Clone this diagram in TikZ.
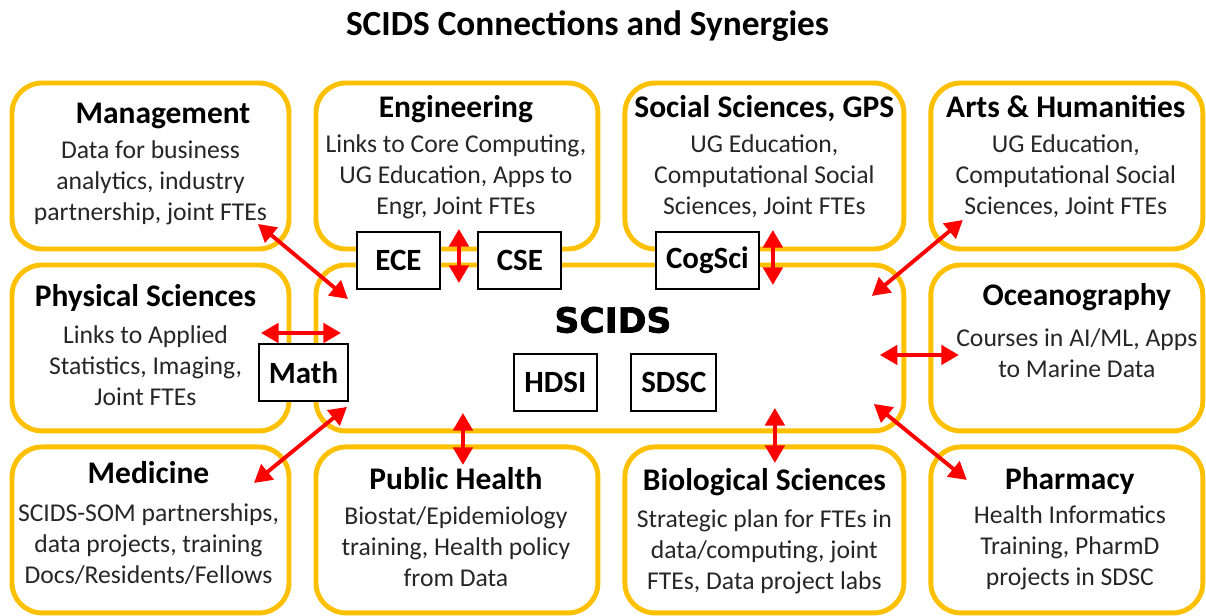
\documentclass[tikz,border=0pt]{standalone}
\usepackage{fontspec}
\setmainfont{Carlito}
\newfontfamily\heavyfont[BoldFeatures={FakeBold=2}]{DejaVu Sans}
\usetikzlibrary{positioning,calc,arrows.meta}

\definecolor{boxgold}{RGB}{255,192,0}
\definecolor{linkred}{RGB}{255,0,0}
\definecolor{bodygrey}{RGB}{38,38,38}

\newcommand{\head}[1]{{\fontsize{17.9}{20}\selectfont\bfseries\color{black}\vphantom{Mdl}#1}}

\begin{document}
\begin{tikzpicture}[
x=0.02cm, y=-0.02cm,
node distance=0.32cm and 0.54cm,
every node/.style={
align=center,
inner sep=0pt,
font=\fontsize{14.6}{17.6}\selectfont
},
link/.style={{Triangle[length=10pt,width=11pt]}-{Triangle[length=10pt,width=11pt]},
draw=linkred, line width=2.2pt}
]

% =====================================================
% Styles
% =====================================================

\tikzstyle{area} =
[rectangle, rounded corners=0.6cm,
draw=boxgold,
line width=2.8pt,
outer sep=0pt,
minimum height=3.32cm]

\tikzstyle{blurb} =
[text=bodygrey,
anchor=north]

\tikzstyle{group} =
[rectangle,
fill=white,
draw=black,
line width=1.1pt,
minimum width=1.66cm,
minimum height=1.14cm,
inner xsep=0.2cm,
font=\fontsize{17.6}{20}\selectfont\bfseries]

\useasboundingbox (0,0) rectangle (1206,615);

% =====================================================
% Title
% =====================================================

\node (title) [anchor=base, font=\fontsize{20.1}{24}\selectfont\bfseries]
at (587.5,36) {SCIDS Connections and Synergies};

% =====================================================
% Boxes
% =====================================================

\node (mgmt) [area, minimum width=5.54cm] at (150.5,166) {};
\node (eng) [area, minimum width=5.64cm, right=of mgmt] {};
\node (soc) [area, minimum width=5.58cm, right=of eng] {};
\node (arts) [area, minimum width=5.44cm, right=of soc] {};

\node (phys) [area, minimum width=5.54cm, below=of mgmt] {};
\node (scids) [area, minimum width=11.76cm, right=of phys] {};
\node (ocean) [area, minimum width=5.44cm, right=of scids] {};

\node (med) [area, minimum width=5.54cm, below=of phys] {};
\node (pub) [area, minimum width=5.64cm, right=of med] {};
\node (bio) [area, minimum width=5.58cm, right=of pub] {};
\node (pharm) [area, minimum width=5.44cm, right=of bio] {};

% =====================================================
% Texts
% =====================================================

\node (mgmttext) [blurb] at ($(mgmt.north)+(0,18)$)
{\head{\hspace*{0.5cm}Management}\\[2.4pt] Data for business\\ analytics, industry\\ partnership, joint FTEs};

\node (engtext) [blurb] at ($(eng.north)+(-1,12)$)
{\head{Engineering}\\[2.4pt] Links to Core Computing,\\ UG Education, Apps to\\ Engr, Joint FTEs};

\node (soctext) [blurb] at ($(soc.north)+(0,12)$)
{\head{Social Sciences, GPS}\\[2.4pt] UG Education,\\ Computational Social\\ Sciences, Joint FTEs};

\node (artstext) [blurb] at ($(arts.north)+(-1,12)$)
{\head{Arts \& Humanities}\\[2.4pt] UG Education,\\ Computational Social\\ Sciences, Joint FTEs};

\node (physstext) [blurb] at ($(phys.north)+(-5,19)$)
{\head{Physical Sciences}\\[3.4pt] Links to Applied\\ Statistics, Imaging,\\ Joint FTEs};

\node (oceantext) [blurb] at ($(ocean.north)+(10,18)$)
{\head{Oceanography}\\[5.6pt] Courses in AI/ML, Apps\\ to Marine Data};

\node (medtext) [blurb] at ($(med.north)+(-2,14)$)
{\head{Medicine}\\[4pt] SCIDS-SOM partnerships,\\ data projects, training\\ Docs/Residents/Fellows};

\node (pubtext) [blurb] at ($(pub.north)+(-1,20)$)
{\head{Public Health}\\[2.4pt] Biostat/Epidemiology\\ training, Health policy\\ from Data};

\node (biotext) [blurb] at ($(bio.north)+(0,21)$)
{\head{Biological Sciences}\\[3.6pt] Strategic plan for FTEs in\\ data/computing, joint\\ FTEs, Data project labs};

\node (pharmtext) [blurb] at ($(pharm.north)+(3,20)$)
{\head{Pharmacy}\\[2pt] Health Informatics\\ Training, PharmD\\ projects in SDSC};

\node (scidsname) [font=\heavyfont\bfseries\fontsize{19.7}{22}\selectfont]
at ($(scids.north)+(3,55)$) {SCIDS};

% =====================================================
% Units
% =====================================================

\node (ece) [group] at ($(scids.north)+(-211.5,-4.5)$) {ECE};
\node (cse) [group] at ($(scids.north)+(-90,-4.5)$) {CSE};
\node (cogsci) [group] at ($(scids.north)+(97.5,-4.5)$) {CogSci};
\node (math) [group] at ($(scids.west)+(-12.5,24.5)$) {Math};
\node (hdsi) [group] at ($(scids.center)+(-54.5,34.5)$) {HDSI};
\node (sdsc) [group] at ($(scids.center)+(64,34.5)$) {SDSC};

% =====================================================
% Arrows
% =====================================================

\draw [link] ($(mgmt.south east)+(-31,-25)$) -- ($(scids.north west)+(32,34)$);

\draw [link] ($(eng.south)+(2,-20)$) -- ($(scids.north -| eng.south)+(2,18)$);

\draw [link] ($(soc.south)+(8.5,-19)$) -- ($(scids.north -| soc.south)+(8.5,20)$);

\draw [link] ($(arts.south west)+(32,-29)$) -- ($(scids.north east)+(-32,31)$);

\draw [link] ($(phys.east)+(-28,-15)$) -- ($(scids.west)+(25,-15)$);

\draw [link] ($(scids.east)+(-24,7)$) -- ($(ocean.west)+(28,7)$);

\draw [link] ($(med.north east)+(-35,36)$) -- ($(scids.south west)+(31,-24)$);

\draw [link] ($(scids.south -| pub.north)+(6,-18)$) -- ($(pub.north)+(6,18)$);

\draw [link] ($(scids.south -| bio.north)+(10.5,-23)$) -- ($(bio.north)+(10.5,16)$);

\draw [link] ($(scids.south east)+(-30,-27)$) -- ($(pharm.north west)+(36,33)$);

\end{tikzpicture}
\end{document}
